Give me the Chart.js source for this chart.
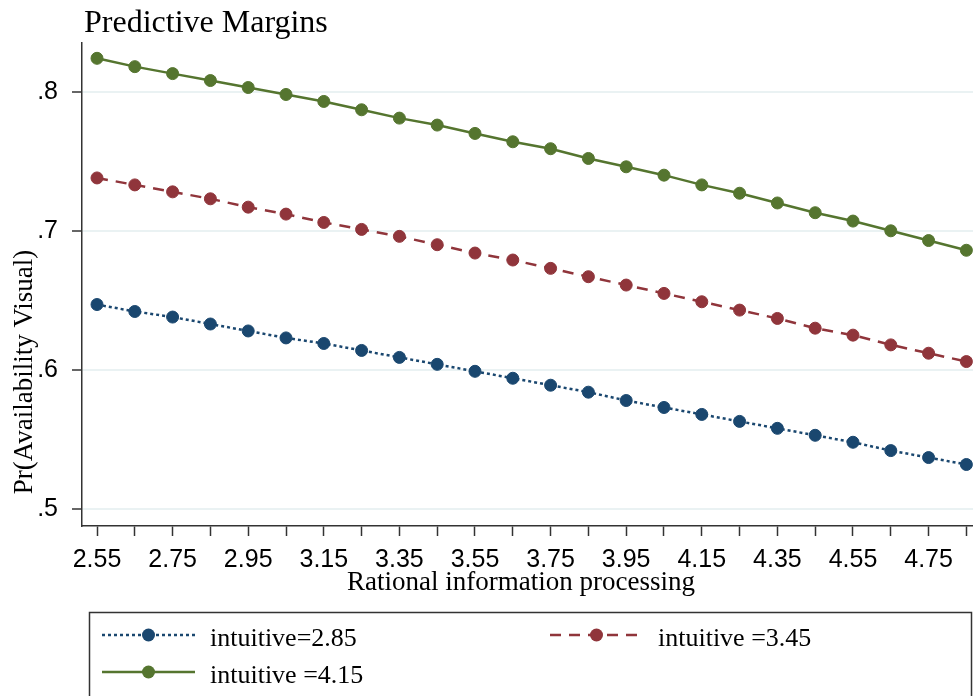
<!DOCTYPE html>
<html>
<head>
<meta charset="utf-8">
<title>Predictive Margins</title>
<script src="https://cdn.jsdelivr.net/npm/chart.js@4/dist/chart.umd.min.js"></script>
<style>
  html, body { margin: 0; padding: 0; background: #fff; }
  #wrap { width: 973px; height: 696px; position: relative; }
</style>
</head>
<body>
<div id="wrap"><canvas id="c"></canvas></div>
<script>
// Rational information processing values at which margins were evaluated
const rationalValues = [2.55, 2.65, 2.75, 2.85, 2.95, 3.05, 3.15, 3.25, 3.35, 3.45, 3.55, 3.65,
                        3.75, 3.85, 3.95, 4.05, 4.15, 4.25, 4.35, 4.45, 4.55, 4.65, 4.75, 4.85];

// Predicted Pr(Availability Visual) for each level of intuitive processing
const marginsIntuitive285 = [0.647, 0.642, 0.638, 0.633, 0.628, 0.623, 0.619, 0.614, 0.609, 0.604, 0.599, 0.594,
                             0.589, 0.584, 0.578, 0.573, 0.568, 0.563, 0.558, 0.553, 0.548, 0.542, 0.537, 0.532];
const marginsIntuitive345 = [0.738, 0.733, 0.728, 0.723, 0.717, 0.712, 0.706, 0.701, 0.696, 0.690, 0.684, 0.679,
                             0.673, 0.667, 0.661, 0.655, 0.649, 0.643, 0.637, 0.630, 0.625, 0.618, 0.612, 0.606];
const marginsIntuitive415 = [0.824, 0.818, 0.813, 0.808, 0.803, 0.798, 0.793, 0.787, 0.781, 0.776, 0.770, 0.764,
                             0.759, 0.752, 0.746, 0.740, 0.733, 0.727, 0.720, 0.713, 0.707, 0.700, 0.693, 0.686];

const seriesLabels = ['intuitive=2.85', 'intuitive =3.45', 'intuitive =4.15'];

// Axis ticks: a tick mark at every evaluation point, labels every second one
const xTickValues = rationalValues;
const xTickLabels = ['2.55', '2.75', '2.95', '3.15', '3.35', '3.55', '3.75', '3.95', '4.15', '4.35', '4.55', '4.75'];
const yTickValues = [0.5, 0.6, 0.7, 0.8];
const yTickLabels = ['.5', '.6', '.7', '.8'];

const chartTitle = 'Predictive Margins';
const xTitle = 'Rational information processing';
const yTitle = 'Pr(Availability Visual)';

const SERIF = '"Liberation Serif", "Times New Roman", serif';
const SANS = '"Liberation Sans", Arial, sans-serif';
const AXIS = '#333333';

const toPoints = ys => rationalValues.map((x, i) => ({ x, y: ys[i] }));

function xLabelFor(v) {
  const hit = xTickLabels.find(l => Math.abs(parseFloat(l) - v) < 1e-6);
  return hit === undefined ? '' : hit;
}

// Titles and the boxed two-column legend
const frameText = {
  id: 'frameText',
  afterDraw(chart) {
    const ctx = chart.ctx;
    ctx.save();
    ctx.fillStyle = '#000';

    ctx.font = '32px ' + SERIF;
    ctx.textAlign = 'left';
    ctx.textBaseline = 'alphabetic';
    ctx.fillText(chartTitle, 84, 32);

    ctx.font = '27px ' + SERIF;
    ctx.textAlign = 'center';
    ctx.fillText(xTitle, 521, 590);

    ctx.save();
    ctx.translate(32, 372);
    ctx.rotate(-Math.PI / 2);
    ctx.font = '27px ' + SERIF;
    ctx.textAlign = 'center';
    ctx.fillText(yTitle, 0, 0);
    ctx.restore();

    // legend frame
    ctx.strokeStyle = AXIS;
    ctx.lineWidth = 1.5;
    ctx.strokeRect(89.5, 612.5, 882, 120);

    const slots = [{ x: 102, y: 635 }, { x: 550, y: 635 }, { x: 102, y: 672 }];
    const keyWidth = 93;
    chart.data.datasets.forEach((ds, i) => {
      const s = slots[i];
      ctx.save();
      ctx.strokeStyle = ds.borderColor;
      ctx.lineWidth = ds.borderWidth;
      ctx.setLineDash(ds.borderDash || []);
      ctx.beginPath();
      ctx.moveTo(s.x, s.y);
      ctx.lineTo(s.x + keyWidth, s.y);
      ctx.stroke();
      ctx.setLineDash([]);
      ctx.fillStyle = ds.pointBackgroundColor;
      ctx.beginPath();
      ctx.arc(s.x + keyWidth / 2, s.y, 6.5, 0, Math.PI * 2);
      ctx.fill();
      ctx.restore();

      ctx.font = '26px ' + SERIF;
      ctx.textAlign = 'left';
      ctx.textBaseline = 'alphabetic';
      ctx.fillStyle = '#000';
      ctx.fillText(ds.label, s.x + keyWidth + 15, s.y + 11);
    });
    ctx.restore();
  }
};

const lineSeries = (label, ys, color, dash) => ({
  label,
  data: toPoints(ys),
  borderColor: color,
  backgroundColor: color,
  pointBackgroundColor: color,
  pointBorderColor: color,
  borderWidth: 2.5,
  borderDash: dash,
  borderCapStyle: 'butt',
  pointRadius: 6,
  pointBorderWidth: 1,
  tension: 0,
  fill: false,
  clip: 8
});

new Chart(document.getElementById('c'), {
  type: 'line',
  data: {
    datasets: [
      lineSeries(seriesLabels[0], marginsIntuitive285, '#1a476f', [3, 3]),
      lineSeries(seriesLabels[1], marginsIntuitive345, '#90353b', [11, 8]),
      lineSeries(seriesLabels[2], marginsIntuitive415, '#55752f', [])
    ]
  },
  options: {
    responsive: true,
    maintainAspectRatio: false,
    animation: false,
    layout: { autoPadding: false, padding: { top: 43, left: 0, right: 0, bottom: 100 } },
    plugins: {
      legend: { display: false },
      title: { display: false },
      tooltip: { enabled: false }
    },
    scales: {
      x: {
        type: 'linear',
        min: 2.5103,
        max: 4.8675,
        afterBuildTicks: s => { s.ticks = xTickValues.map(v => ({ value: v })); },
        afterFit: s => { s.height = 70; s.paddingLeft = 0; s.paddingRight = 0; },
        ticks: {
          callback: v => xLabelFor(v),
          autoSkip: false,
          maxRotation: 0,
          padding: 9,
          color: '#000',
          font: { family: SANS, size: 25 }
        },
        grid: { drawOnChartArea: false, tickColor: AXIS, tickWidth: 1.5, tickLength: 10 },
        border: { color: AXIS, width: 1.5 }
      },
      y: {
        type: 'linear',
        min: 0.4878,
        max: 0.835,
        afterBuildTicks: s => { s.ticks = yTickValues.map(v => ({ value: v })); },
        afterFit: s => { s.width = 82; s.paddingTop = 0; s.paddingBottom = 0; },
        ticks: {
          callback: v => yTickLabels[yTickValues.indexOf(v)],
          padding: 14,
          color: '#000',
          font: { family: SANS, size: 25 }
        },
        grid: { color: '#eaf2f3', lineWidth: 2, tickColor: AXIS, tickWidth: 1.5, tickLength: 10 },
        border: { color: AXIS, width: 1.5 }
      }
    }
  },
  plugins: [frameText]
});
</script>
</body>
</html>
